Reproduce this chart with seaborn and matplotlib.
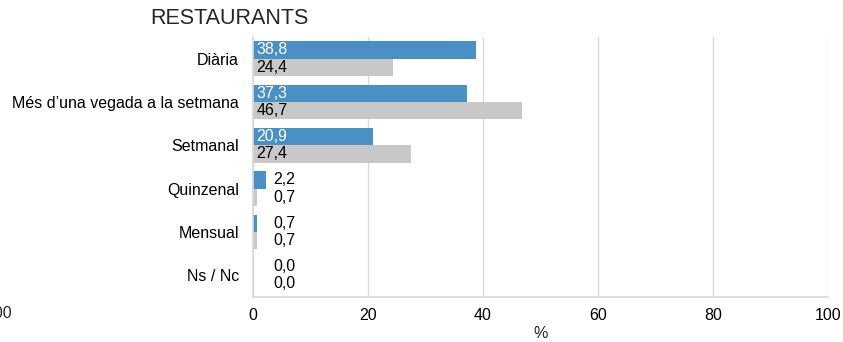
import numpy as np
import pandas as pd
import seaborn as sns
import matplotlib.pyplot as plt

# Dades
categories = ["Diària", "Més d\u2019una vegada a la setmana", "Setmanal", "Quinzenal", "Mensual", "Ns / Nc"]
serie_1 = [38.8, 37.3, 20.9, 2.2, 0.7, 0.0]
serie_2 = [24.4, 46.7, 27.4, 0.7, 0.7, 0.0]
series = ["Sèrie 1", "Sèrie 2"]
x_ticks = [0, 20, 40, 60, 80, 100]

df = pd.DataFrame({
    "categoria": categories * 2,
    "valor": serie_1 + serie_2,
    "serie": [series[0]] * len(categories) + [series[1]] * len(categories),
})

sns.set_theme(style="white")
plt.rcParams['font.family'] = ['Liberation Sans', 'DejaVu Sans']

fs = 11.5
fig = plt.figure(figsize=(8.43, 3.42), dpi=100)
ax = fig.add_axes([253 / 843, 1 - 297 / 342, 575 / 843, 260 / 342])

sns.barplot(data=df, y="categoria", x="valor", hue="serie", order=categories,
            hue_order=series, palette=["#4A90C4", "#C8C8C8"], width=0.8,
            saturation=1, legend=False, linewidth=0, ax=ax)

ax.set_xlim(0, 100)
ax.set_xticks(x_ticks)
ax.xaxis.grid(True, color="#D9D9D9", linewidth=1)
ax.set_axisbelow(True)
for s in ["top", "right"]:
    ax.spines[s].set_visible(False)
for s in ["left", "bottom"]:
    ax.spines[s].set_color("#D9D9D9")
ax.tick_params(axis="both", length=0, labelsize=fs, colors="black")
ax.tick_params(axis="y", pad=10)
ax.tick_params(axis="x", pad=8)
ax.set_ylabel("")
ax.set_xlabel("%", fontsize=fs, labelpad=2)

# Etiquetes de valor
for cont, col_in in zip(ax.containers, ["white", "black"]):
    for bar in cont:
        v = bar.get_width()
        y = bar.get_y() + bar.get_height() / 2
        txt = f"{v:.1f}".replace(".", ",")
        if v > 10:
            ax.text(0.6, y, txt, va="center", ha="left", fontsize=fs, color=col_in)
        else:
            ax.text(3.5, y, txt, va="center", ha="left", fontsize=fs, color="black")

fig.text(150 / 843, 1 - 19 / 342, "RESTAURANTS", fontsize=15.5, va="center", ha="left")
# resta d'un eix veí tallat a la vora
fig.text(12 / 843, 1 - 314 / 342, "100", fontsize=fs, va="center", ha="right")

fig.savefig("out.png", dpi=100)
